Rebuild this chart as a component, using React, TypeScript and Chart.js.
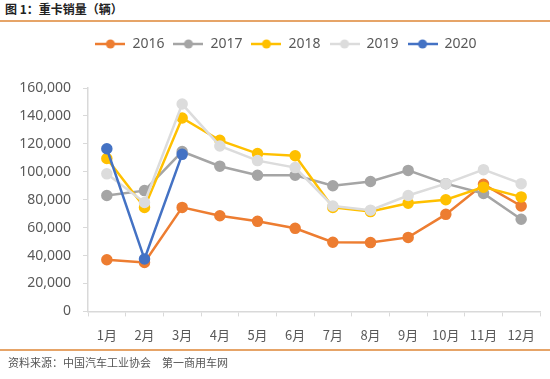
import React, { useEffect, useRef } from "react";
import { Chart, registerables } from "chart.js";

Chart.register(...registerables);

const categories = ["1月", "2月", "3月", "4月", "5月", "6月", "7月", "8月", "9月", "10月", "11月", "12月"];
const s2016 = [37000, 35000, 74500, 68500, 64500, 59500, 49500, 49300, 53000, 69500, 91000, 75500];
const s2017 = [83000, 86500, 114500, 104000, 97500, 97500, 90000, 93000, 101000, 91500, 84500, 66000];
const s2018 = [109500, 74500, 138500, 122500, 113000, 111500, 74500, 71500, 77500, 80000, 89000, 82000];
const s2019 = [98500, 78000, 148500, 118500, 108000, 103000, 75500, 72500, 83000, 91500, 101500, 91500];
const s2020 = [116500, 37500, 112500];
const yTicks = [0, 20000, 40000, 60000, 80000, 100000, 120000, 140000, 160000];

const seriesNames = ["2016", "2017", "2018", "2019", "2020"];
const seriesData = [s2016, s2017, s2018, s2019, s2020];
const seriesColors = ["#ED7D31", "#A5A5A5", "#FFC000", "#DCDCDC", "#4472C4"];

function legendIcon(color: string) {
  const c = document.createElement("canvas");
  c.width = 30;
  c.height = 12;
  const ctx = c.getContext("2d")!;
  ctx.strokeStyle = color;
  ctx.lineWidth = 2.5;
  ctx.beginPath();
  ctx.moveTo(0, 6);
  ctx.lineTo(30, 6);
  ctx.stroke();
  ctx.fillStyle = color;
  ctx.beginPath();
  ctx.arc(15, 6, 4.5, 0, Math.PI * 2);
  ctx.fill();
  return c;
}

const LEGEND_SHIFT = 16;

const legendSpacer = {
  id: "legendSpacer",
  beforeInit(chart: any) {
    const lg = chart.legend;
    if (!lg) return;
    const origFit = lg.fit;
    lg.fit = function () {
      origFit.call(this);
      this.height += 27;
    };
  },
  afterLayout(chart: any) {
    const lg = chart.legend;
    if (!lg) return;
    lg.left += LEGEND_SHIFT;
    lg.right += LEGEND_SHIFT;
  },
};

export default function App() {
  const ref = useRef<HTMLCanvasElement>(null);
  useEffect(() => {
    document.body.style.margin = "0";
    const icons = seriesColors.map(legendIcon);
    const chart = new Chart(ref.current!, {
      type: "line",
      plugins: [legendSpacer],
      data: {
        labels: categories,
        datasets: seriesNames.map((n, i) => ({
          label: n,
          data: seriesData[i],
          borderColor: seriesColors[i],
          backgroundColor: seriesColors[i],
          pointBackgroundColor: seriesColors[i],
          pointBorderColor: seriesColors[i],
          borderWidth: 2.5,
          pointRadius: 4.5,
          pointStyle: "circle",
          order: 5 - i,
          tension: 0,
        })),
      },
      options: {
        animation: false,
        responsive: false,
        maintainAspectRatio: false,
        layout: { padding: { left: 0, right: 10, top: 6, bottom: 0 } },
        plugins: {
          tooltip: { enabled: false },
          legend: {
            position: "top",
            labels: {
              usePointStyle: true,
              pointStyleWidth: 30,
              boxHeight: 12,
              padding: 9,
              color: "#595959",
              font: { family: "'Noto Sans', 'Open Sans', sans-serif", size: 14 },
              generateLabels: (chart: any) =>
                chart.data.datasets.map((ds: any, i: number) => ({
                  text: ds.label,
                  fillStyle: ds.borderColor,
                  strokeStyle: ds.borderColor,
                  lineWidth: 0,
                  pointStyle: icons[i],
                  datasetIndex: i,
                  hidden: false,
                  fontColor: "#595959",
                })),
            },
          },
        },
        scales: {
          x: {
            offset: true,
            grid: {
              offset: true,
              drawOnChartArea: false,
              drawTicks: true,
              tickLength: 5,
              color: "#D9D9D9",
            },
            border: { color: "#D9D9D9", width: 1.5 },
            ticks: {
              color: "#595959",
              font: { family: "'Noto Sans CJK SC', sans-serif", size: 13 },
              padding: 11,
              maxRotation: 0,
              autoSkip: false,
            },
          },
          y: {
            min: 0,
            max: 160000,
            afterBuildTicks: (axis: any) => {
              axis.ticks = yTicks.map((v) => ({ value: v }));
            },
            afterFit: (axis: any) => {
              axis.width = 88;
            },
            grid: {
              drawOnChartArea: false,
              drawTicks: true,
              tickLength: 5,
              color: "#D9D9D9",
            },
            border: { color: "#D9D9D9", width: 1.5 },
            ticks: {
              color: "#595959",
              font: { family: "'Noto Sans', 'Open Sans', sans-serif", size: 14 },
              padding: 12,
              callback: (v: any) => Number(v).toLocaleString("en-US"),
            },
          },
        },
      },
    });
    return () => chart.destroy();
  }, []);

  return (
    <div style={{ position: "relative", width: 550, height: 379, background: "#fff", overflow: "hidden" }}>
      <div
        style={{
          position: "absolute",
          left: 5,
          top: 0,
          height: 18,
          lineHeight: "18px",
          fontFamily: "'Noto Sans CJK SC', sans-serif",
          fontWeight: "bold",
          fontSize: 12,
          color: "#222",
        }}
      >
        图 1：重卡销量（辆）
      </div>
      <div style={{ position: "absolute", left: 0, top: 20, width: 550, height: 2, background: "#E6A468" }} />
      <canvas ref={ref} width={550} height={332} style={{ position: "absolute", left: 0, top: 22, width: 550, height: 332 }} />
      <div style={{ position: "absolute", left: 0, top: 349, width: 550, height: 2, background: "#E6A468" }} />
      <div
        style={{
          position: "absolute",
          left: 8,
          top: 354,
          height: 16,
          lineHeight: "16px",
          fontFamily: "'Noto Sans CJK SC', sans-serif",
          fontSize: 11,
          color: "#555",
          whiteSpace: "pre",
        }}
      >
        资料来源：中国汽车工业协会　第一商用车网
      </div>
    </div>
  );
}
